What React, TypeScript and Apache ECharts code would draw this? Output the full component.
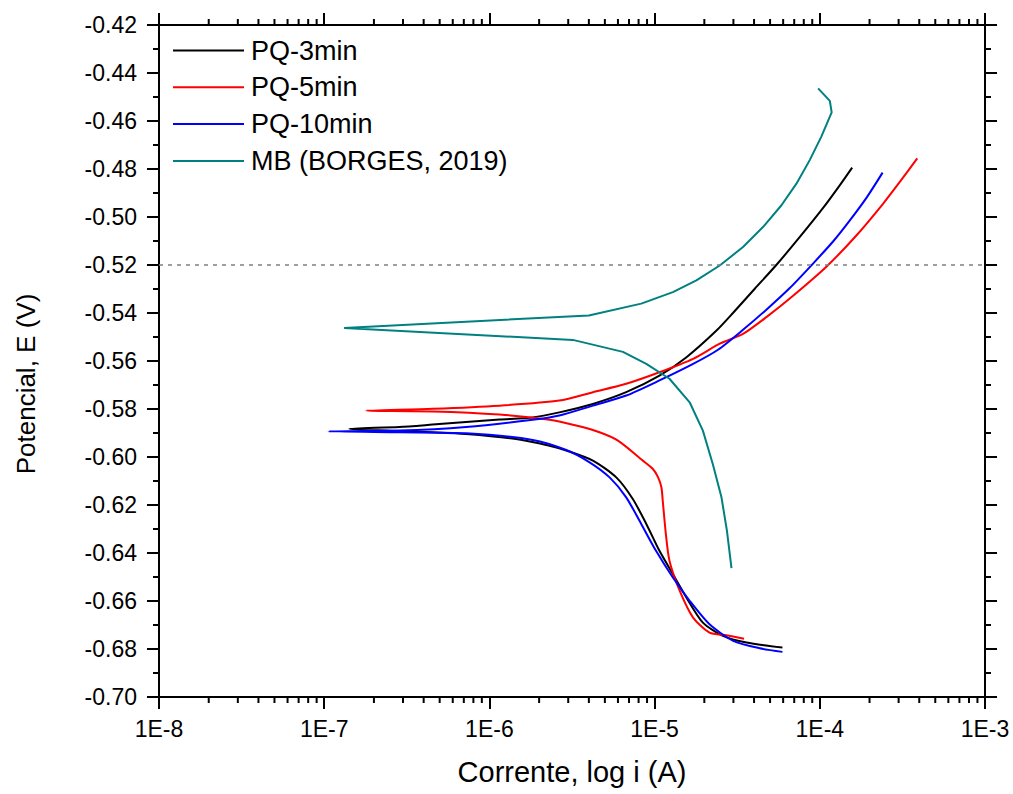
import React, { useEffect, useRef } from "react";
import * as echarts from "echarts";

// ---- Data (current in A, potential in V) ----
const pq3Current = [
  5.94e-5, 3.6e-5, 2.59e-5, 1.96e-5, 1.56e-5, 1.29e-5, 1.07e-5, 8.91e-6, 7.38e-6, 5.86e-6,
  4.23e-6, 2.92e-6, 2.31e-6, 1.45e-6, 7.22e-7, 4.52e-7, 2.85e-7, 1.42e-7,
  2.85e-7, 4.53e-7, 1.15e-6, 1.83e-6, 2.65e-6, 4.23e-6, 6.73e-6, 1.07e-5, 1.56e-5, 2.37e-5,
  2.99e-5, 4.04e-5, 5.47e-5, 7.57e-5, 1.05e-4, 1.32e-4, 1.57e-4,
];
const pq3Potential = [
  -0.6794, -0.6773, -0.6745, -0.669, -0.6586, -0.6488, -0.6391, -0.6279, -0.6175, -0.6085,
  -0.6015, -0.5973, -0.5953, -0.5925, -0.5904, -0.5897, -0.5892, -0.5883,
  -0.5875, -0.5865, -0.5844, -0.5835, -0.5814, -0.5779, -0.573, -0.5661, -0.5584, -0.5473,
  -0.5399, -0.5299, -0.5199, -0.5083, -0.4961, -0.4868, -0.4794,
];

const pq5Current = [
  3.48e-5, 2.72e-5, 2.15e-5, 1.71e-5, 1.42e-5, 1.23e-5, 1.17e-5, 1.12e-5, 1.1e-5, 1.05e-5,
  9.77e-6, 8.49e-6, 6.0e-6, 4.64e-6, 3.35e-6, 2.31e-6, 1.15e-6, 4.53e-7, 1.79e-7,
  4.53e-7, 1.15e-6, 2.65e-6, 4.23e-6, 6.73e-6, 1.07e-5, 1.71e-5, 2.48e-5, 3.43e-5, 4.75e-5,
  6.89e-5, 1.1e-4, 1.67e-4, 2.42e-4, 3.05e-4, 3.89e-4,
];
const pq5Potential = [
  -0.6757, -0.6743, -0.6732, -0.6669, -0.6558, -0.6432, -0.6321, -0.6182, -0.6127, -0.6085,
  -0.605, -0.6015, -0.5932, -0.5897, -0.5869, -0.5845, -0.5823, -0.581, -0.5807,
  -0.5799, -0.5786, -0.5765, -0.573, -0.5695, -0.5647, -0.5591, -0.5528, -0.5487, -0.5417,
  -0.5328, -0.5206, -0.5076, -0.4944, -0.4854, -0.4756,
];

const pq10Current = [
  5.94e-5, 4.33e-5, 2.99e-5, 2.15e-5, 1.63e-5, 1.29e-5, 1.02e-5, 8.3e-6, 6.73e-6, 5.34e-6,
  4.04e-6, 2.92e-6, 1.83e-6, 7.22e-7, 2.85e-7, 1.06e-7,
  2.85e-7, 7.22e-7, 1.83e-6, 2.65e-6, 4.23e-6, 6.73e-6, 1.07e-5, 1.71e-5, 2.42e-5, 3.43e-5,
  4.75e-5, 6.58e-5, 9.1e-5, 1.21e-4, 1.52e-4, 1.92e-4, 2.4e-4,
];
const pq10Potential = [
  -0.6812, -0.6797, -0.6766, -0.6697, -0.6599, -0.6502, -0.6391, -0.6279, -0.6168, -0.6085,
  -0.6022, -0.5971, -0.5929, -0.5901, -0.5897, -0.5893,
  -0.589, -0.5875, -0.5845, -0.5827, -0.5786, -0.5744, -0.5681, -0.5612, -0.5553, -0.547,
  -0.5386, -0.5296, -0.5194, -0.51, -0.5014, -0.4919, -0.4815,
];

const mbCurrent = [
  2.92e-5, 2.74e-5, 2.54e-5, 2.25e-5, 1.96e-5, 1.63e-5, 1.23e-5, 8.91e-6, 6.43e-6, 3.2e-6,
  1.32e-7,
  4.0e-6, 8.3e-6, 1.29e-5, 1.79e-5, 2.48e-5, 3.43e-5, 4.53e-5, 5.86e-5, 7.22e-5, 8.69e-5,
  1.02e-4, 1.18e-4, 1.15e-4, 9.77e-5,
];
const mbPotential = [
  -0.6463, -0.6307, -0.6168, -0.6029, -0.589, -0.5772, -0.5674, -0.5612, -0.5562, -0.5512,
  -0.5463,
  -0.541, -0.5361, -0.5313, -0.5264, -0.5202, -0.5125, -0.5042, -0.4951, -0.4861, -0.4763,
  -0.4666, -0.4564, -0.4516, -0.4464,
];

const seriesNames = ["PQ-3min", "PQ-5min", "PQ-10min", "MB (BORGES, 2019)"];
const seriesColors = ["#000000", "#ff0000", "#0000ff", "#008080"];
const referencePotential = -0.52;

const xMin = 1e-8;
const xMax = 1e-3;
const yMin = -0.7;
const yMax = -0.42;
const yInterval = 0.02;

const decades = [1e-8, 1e-7, 1e-6, 1e-5, 1e-4];
const minorMultipliers = [2, 3, 4, 5, 6, 7, 8, 9];

const FONT = "'Liberation Sans', Arial, sans-serif";

function pairs(xs: number[], ys: number[]) {
  return xs.map((x, i) => [x, ys[i]]);
}

export default function App() {
  const ref = useRef<HTMLDivElement>(null);

  useEffect(() => {
    if (!ref.current) return;
    const chart = echarts.init(ref.current, undefined, { renderer: "svg" });

    const minorTicks: number[][] = [];
    decades.forEach((d) => minorMultipliers.forEach((m) => minorTicks.push([d * m, yMin])));

    const axisLine = { show: true, onZero: false, lineStyle: { color: "#000", width: 2 } };
    const axisTick = { show: true, inside: false, length: 12, lineStyle: { color: "#000", width: 2 } };
    const minorTick = { show: true, splitNumber: 2, length: 6, lineStyle: { color: "#000", width: 2 } };

    const lineSeries = (idx: number, xs: number[], ys: number[], smooth: number | boolean) => ({
      type: "line",
      name: seriesNames[idx],
      data: pairs(xs, ys),
      xAxisIndex: 0,
      yAxisIndex: 0,
      symbol: "none",
      showSymbol: false,
      smooth,
      lineStyle: { color: seriesColors[idx], width: 2 },
      itemStyle: { color: seriesColors[idx] },
      z: 3,
    });

    chart.setOption({
      animation: false,
      backgroundColor: "#ffffff",
      textStyle: { fontFamily: FONT },
      grid: { left: 159, right: 28, top: 25, bottom: 97, containLabel: false },
      legend: {
        show: true,
        data: seriesNames.map((n) => ({ name: n, icon: "rect" })),
        orient: "vertical",
        left: 168,
        top: 31,
        itemWidth: 71,
        itemHeight: 2,
        itemGap: 7.8,
        textStyle: { fontFamily: FONT, fontSize: 27, color: "#000", lineHeight: 29, padding: [0, 0, 0, 2] },
        selectedMode: false,
      },
      xAxis: [
        {
          type: "log",
          logBase: 10,
          min: xMin,
          max: xMax,
          position: "bottom",
          splitNumber: 5,
          axisLine,
          axisTick,
          splitLine: { show: false },
          axisLabel: {
            show: true,
            margin: 20,
            fontSize: 23,
            color: "#000",
            fontFamily: FONT,
            formatter: (v: number) => "1E" + Math.round(Math.log10(v)),
          },
          name: "Corrente, log i (A)",
          nameLocation: "middle",
          nameGap: 60,
          nameTextStyle: { fontSize: 29, color: "#000", fontFamily: FONT },
        },
        {
          type: "log",
          logBase: 10,
          min: xMin,
          max: xMax,
          position: "top",
          splitNumber: 5,
          axisLine,
          axisTick,
          splitLine: { show: false },
          axisLabel: { show: false },
        },
      ],
      yAxis: [
        {
          type: "value",
          min: yMin,
          max: yMax,
          interval: yInterval,
          position: "left",
          axisLine,
          axisTick,
          minorTick,
          splitLine: { show: false },
          axisLabel: {
            show: true,
            margin: 22,
            fontSize: 23,
            color: "#000",
            fontFamily: FONT,
            formatter: (v: number) => v.toFixed(2),
          },
          name: "Potencial, E (V)",
          nameLocation: "middle",
          nameGap: 120,
          nameRotate: 90,
          nameTextStyle: { fontSize: 26, color: "#000", fontFamily: FONT, padding: [0, 46, 0, 0] },
        },
        {
          type: "value",
          min: yMin,
          max: yMax,
          interval: yInterval,
          position: "right",
          axisLine,
          axisTick,
          minorTick,
          splitLine: { show: false },
          axisLabel: { show: false },
        },
      ],
      series: [
        {
          ...lineSeries(0, pq3Current, pq3Potential, 0.25),
          markLine: {
            silent: true,
            symbol: "none",
            label: { show: false },
            lineStyle: { color: "#808080", type: [4, 5], width: 1.5 },
            data: [{ yAxis: referencePotential }],
          },
        },
        lineSeries(1, pq5Current, pq5Potential, 0.25),
        lineSeries(2, pq10Current, pq10Potential, 0.25),
        lineSeries(3, mbCurrent, mbPotential, false),
        {
          type: "custom",
          silent: true,
          xAxisIndex: 0,
          yAxisIndex: 0,
          clip: false,
          data: minorTicks,
          encode: { x: 0, y: 1 },
          renderItem: (params: any, api: any) => {
            const v = api.value(0);
            const pb = api.coord([v, yMin]);
            const pt = api.coord([v, yMax]);
            const style = { stroke: "#000", lineWidth: 2 };
            return {
              type: "group",
              children: [
                { type: "line", shape: { x1: pb[0], y1: pb[1], x2: pb[0], y2: pb[1] + 6 }, style },
                { type: "line", shape: { x1: pt[0], y1: pt[1], x2: pt[0], y2: pt[1] - 6 }, style },
              ],
            };
          },
        },
      ],
    });

    return () => chart.dispose();
  }, []);

  return (
    <div
      ref={ref}
      style={{ position: "absolute", left: 0, top: 0, width: 1013, height: 794, background: "#fff" }}
    />
  );
}
